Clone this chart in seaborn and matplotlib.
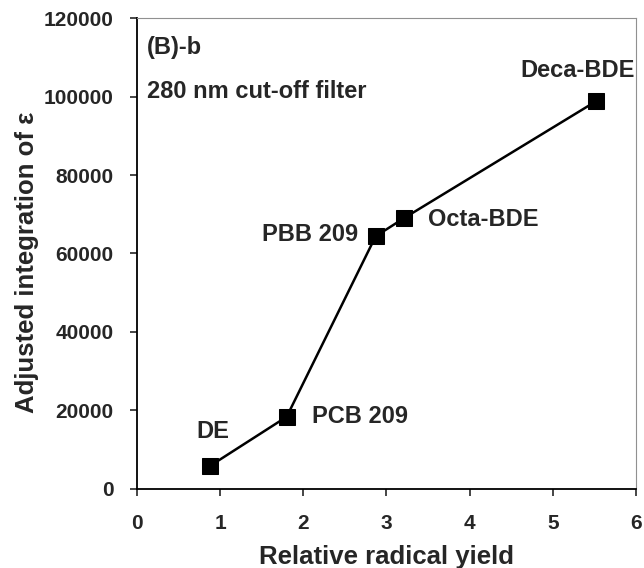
import pandas as pd
import matplotlib.pyplot as plt
import seaborn as sns

# values
compounds = ['DE', 'PCB 209', 'PBB 209', 'Octa-BDE', 'Deca-BDE']
radical_yield = [0.88, 1.80, 2.87, 3.21, 5.52]
integration = [5900, 18400, 64400, 69000, 98800]

df = pd.DataFrame({'compound': compounds, 'yield': radical_yield, 'eps': integration})

sns.set_style('white')
plt.rcParams['font.family'] = ['Liberation Sans', 'DejaVu Sans']
plt.rcParams['font.weight'] = 'bold'

fig = plt.figure(figsize=(6.44, 5.68), dpi=100)
ax = fig.add_axes([0.2127, 0.1391, 0.9876 - 0.2127, 0.9683 - 0.1391])

sns.lineplot(data=df, x='yield', y='eps', ax=ax, color='black', linewidth=1.8,
             marker='s', markersize=11, markeredgecolor='black', sort=False)

ax.set_xlim(0, 6)
ax.set_ylim(0, 120000)
ax.set_xticks(range(0, 7))
ax.set_yticks(range(0, 120001, 20000))
ax.tick_params(axis='both', which='major', labelsize=15, length=5, width=1.2,
               direction='out', bottom=True, left=True)
ax.tick_params(axis='x', pad=13)
ax.tick_params(axis='y', pad=12)
for lbl in ax.get_xticklabels() + ax.get_yticklabels():
    lbl.set_fontweight('bold')

for side in ['left', 'bottom']:
    ax.spines[side].set_color('black')
    ax.spines[side].set_linewidth(1.3)
for side in ['top', 'right']:
    ax.spines[side].set_color('#909090')
    ax.spines[side].set_linewidth(0.8)

ax.set_xlabel('Relative radical yield', fontsize=18.5, fontweight='bold', labelpad=9)
ax.set_ylabel('Adjusted integration of ε', fontsize=18.5, fontweight='bold')
ax.yaxis.set_label_coords(-0.196, 0.482)

# point labels (offsets in pixels)
offsets = {
    'DE': (3, 34, 'center', 'center'),
    'PCB 209': (25, 0, 'left', 'center'),
    'PBB 209': (-18, 2, 'right', 'center'),
    'Octa-BDE': (24, -1, 'left', 'center'),
    'Deca-BDE': (-19, 31, 'center', 'center'),
}
for name, x, y in zip(compounds, radical_yield, integration):
    dx, dy, ha, va = offsets[name]
    ax.annotate(name, (x, y), xytext=(dx, dy), textcoords='offset pixels',
                ha=ha, va=va, fontsize=17, fontweight='bold')

ax.text(0.02, 0.938, '(B)-b', transform=ax.transAxes, fontsize=17,
        fontweight='bold', va='center', ha='left')
ax.text(0.02, 0.845, '280 nm cut-off filter', transform=ax.transAxes, fontsize=17,
        fontweight='bold', va='center', ha='left')

fig.savefig('out.png', dpi=100)
